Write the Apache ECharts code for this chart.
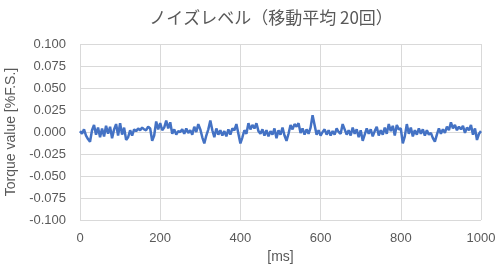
<!DOCTYPE html>
<html><head><meta charset="utf-8">
<script src="https://cdn.jsdelivr.net/npm/echarts@6/dist/echarts.min.js"></script>
<style>html,body{margin:0;padding:0;background:#fff}#c{width:500px;height:271px}</style>
</head><body><div id="c"></div>
<script>
const title = 'ノイズレベル（移動平均 20回）';
const xName = '[ms]';
const yName = 'Torque value [%F.S.]';
const stepMs = 5;
// values in units of 0.001 %F.S., one every 5 ms from 0 to 1000
const noise = [
 1, -2, 3, -4, -8, -11, 2, 8, -3, 5, -6,
 4, -5, 7, -2, 6, -7, 3, 9, -4, 10,
 -3, 5, -9, -6, 2, -4, 3, 1, 4, 2,
 5, 3, 2, 6, 4, -10, -4, 12, 3, 10,
 2, 5, 13, 4, 11, -2, 3, -3, 1, 0,
 3, -2, 4, -1, 2, -3, 6, 0, 9, 3,
 -6, -13, -4, 3, 13, 2, -6, 4, -3, 2,
 -4, 1, -5, 3, -3, 4, 2, 9, -2, -13,
 -6, 2, -2, 10, 3, 8, 4, 10, 1, -2,
 3, -4, 2, -5, 1, -3, 4, -7, 2, -3,
 5, -4, -10, -2, 8, 3, 9, 6, 10, -1,
 4, -3, 3, -2, 5, 19, 8, -3, 2, -4,
 0, 3, -3, 2, -4, 1, -3, 4, 0, -2,
 9, 3, -3, 2, -4, 5, -2, 3, -6, 2,
 -10, -3, 4, -2, 3, -5, 1, 6, -4, 2,
 -3, 5, -2, 9, 1, 7, -4, 8, 3, 4,
 -13, -5, 9, -2, 5, -5, 2, -3, 4, -2,
 3, -4, 2, -3, -1, -7, -11, -3, 4, -2,
 3, -1, 6, 2, 11, 4, 8, 2, 6, 3,
 7, -1, 5, 2, 8, -3, 4, -9, -2, 1
];
const data = noise.map((v, i) => [i * stepMs, v / 1000]);
const txt = '#595959';
const chart = echarts.init(document.getElementById('c'), null, {renderer: 'canvas'});
chart.setOption({
  animation: false,
  title: {text: title, left: 266, textAlign: 'center', top: 4,
    textStyle: {fontFamily: 'Noto Sans CJK JP', fontSize: 17, fontWeight: 'normal', color: txt}},
  grid: {left: 80, right: 19, top: 44, bottom: 51, outerBoundsMode: 'none', containLabel: false},
  xAxis: {type: 'value', min: 0, max: 1000, interval: 200,
    name: xName, nameLocation: 'middle', nameGap: 26,
    nameTextStyle: {fontFamily: 'Liberation Sans', fontSize: 14, color: txt},
    axisLine: {show: true, lineStyle: {color: '#d9d9d9'}}, axisTick: {show: false},
    axisLabel: {fontFamily: 'Liberation Sans', fontSize: 13, color: txt, margin: 12,
      formatter: v => String(v)},
    splitLine: {show: true, lineStyle: {color: '#d9d9d9'}}},
  yAxis: {type: 'value', min: -0.1, max: 0.1, interval: 0.025,
    name: yName, nameLocation: 'middle', nameGap: 60, nameRotate: 90,
    nameTextStyle: {fontFamily: 'Liberation Sans', fontSize: 14, color: txt},
    axisLine: {show: false}, axisTick: {show: false},
    axisLabel: {fontFamily: 'Liberation Sans', fontSize: 13, color: txt, margin: 14,
      formatter: v => v.toFixed(3)},
    splitLine: {show: true, lineStyle: {color: '#d9d9d9'}}},
  series: [{type: 'line', data: data, showSymbol: false, symbol: 'none',
    lineStyle: {color: '#4472C4', width: 2.5}, itemStyle: {color: '#4472C4'}}]
});
</script></body></html>
